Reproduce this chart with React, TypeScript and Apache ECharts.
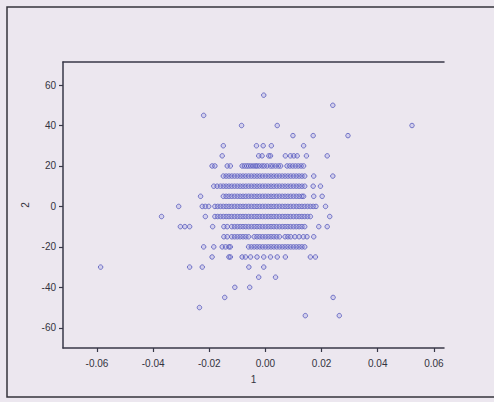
import React, { useEffect, useRef } from "react";
import * as echarts from "echarts";

const xTicks = [-0.06, -0.04, -0.02, 0.0, 0.02, 0.04, 0.06];
const yTicks = [-60, -40, -20, 0, 20, 40, 60];

const rowY = [55, 50, 45, 40, 35, 30, 25, 20, 15, 10, 5, 0, -5, -10, -15, -20, -25, -30, -35, -40, -45, -50, -54];

const x55 = [-0.0006];
const x50 = [0.024];
const x45 = [-0.022];
const x40 = [-0.0085, 0.0042, 0.0522];
const x35 = [0.0098, 0.017, 0.0294];
const x30 = [-0.015, -0.0032, -0.0008, 0.0021, 0.0136];
const x25 = [-0.0154, -0.0024, -0.0012, 0.0012, 0.0018, 0.0071, 0.0089, 0.0101, 0.0113, 0.0146, 0.022];
const x20 = [-0.019, -0.018, -0.0136, -0.0125, -0.0083, -0.0075, -0.0067, -0.006, -0.0052, -0.0044, -0.0036, -0.003, -0.0022, -0.0012, -0.0004, 0.0006, 0.0018, 0.0026, 0.0036, 0.0046, 0.0054, 0.0077, 0.0087, 0.0097, 0.0107, 0.0117, 0.0127, 0.0136];
const x15 = [-0.015, -0.014, -0.013, -0.012, -0.011, -0.01, -0.009, -0.008, -0.007, -0.006, -0.005, -0.004, -0.003, -0.002, -0.001, 0.0, 0.001, 0.002, 0.003, 0.004, 0.005, 0.006, 0.007, 0.008, 0.009, 0.01, 0.011, 0.012, 0.013, 0.014, 0.0172, 0.024];
const x10 = [-0.0184, -0.0172, -0.016, -0.015, -0.014, -0.013, -0.012, -0.011, -0.01, -0.009, -0.008, -0.007, -0.006, -0.005, -0.004, -0.003, -0.002, -0.001, 0.0, 0.001, 0.002, 0.003, 0.004, 0.005, 0.006, 0.007, 0.008, 0.009, 0.01, 0.011, 0.012, 0.013, 0.014, 0.017, 0.0196];
const x5 = [-0.0231, -0.015, -0.014, -0.013, -0.012, -0.011, -0.01, -0.009, -0.008, -0.007, -0.006, -0.005, -0.004, -0.003, -0.002, -0.001, 0.0, 0.001, 0.002, 0.003, 0.004, 0.005, 0.006, 0.007, 0.008, 0.009, 0.01, 0.011, 0.012, 0.013, 0.0136, 0.0172, 0.0202];
const x0 = [-0.0309, -0.0225, -0.0214, -0.0202, -0.018, -0.017, -0.016, -0.015, -0.014, -0.013, -0.012, -0.011, -0.01, -0.009, -0.008, -0.007, -0.006, -0.005, -0.004, -0.003, -0.002, -0.001, 0.0, 0.001, 0.002, 0.003, 0.004, 0.005, 0.006, 0.007, 0.008, 0.009, 0.01, 0.011, 0.012, 0.013, 0.014, 0.015, 0.016, 0.017, 0.018, 0.0214];
const xm5 = [-0.037, -0.0214, -0.018, -0.017, -0.016, -0.015, -0.014, -0.013, -0.012, -0.011, -0.01, -0.009, -0.008, -0.007, -0.006, -0.005, -0.004, -0.003, -0.002, -0.001, 0.0, 0.001, 0.002, 0.003, 0.004, 0.005, 0.006, 0.007, 0.008, 0.009, 0.01, 0.011, 0.012, 0.013, 0.014, 0.015, 0.016, 0.0229];
const xm10 = [-0.0303, -0.0287, -0.027, -0.0188, -0.0148, -0.0136, -0.012, -0.011, -0.01, -0.009, -0.008, -0.007, -0.006, -0.005, -0.004, -0.003, -0.002, -0.001, 0.0, 0.001, 0.002, 0.003, 0.004, 0.005, 0.006, 0.007, 0.008, 0.009, 0.01, 0.011, 0.012, 0.013, 0.014, 0.019, 0.022];
const xm15 = [-0.0148, -0.0136, -0.012, -0.011, -0.01, -0.009, -0.008, -0.007, -0.006, -0.004, -0.003, -0.002, -0.001, 0.0, 0.001, 0.002, 0.003, 0.004, 0.005, 0.007, 0.008, 0.009, 0.0105, 0.012, 0.0135, 0.0148, 0.0172];
const xm20 = [-0.022, -0.0184, -0.0154, -0.0142, -0.013, -0.0125, -0.006, -0.005, -0.004, -0.003, -0.002, -0.001, 0.0, 0.001, 0.002, 0.003, 0.004, 0.005, 0.006, 0.007, 0.008, 0.009, 0.01, 0.011, 0.012, 0.013, 0.014];
const xm25 = [-0.019, -0.013, -0.0125, -0.0083, -0.0071, -0.0053, -0.003, -0.0006, 0.0018, 0.0042, 0.0071, 0.016, 0.0178];
const xm30 = [-0.0587, -0.027, -0.0225, -0.0059, -0.0006];
const xm35 = [-0.0024, 0.0036];
const xm40 = [-0.0109, -0.0056];
const xm45 = [-0.0145, 0.0241];
const xm50 = [-0.0235];
const xm54 = [0.0142, 0.0263];

const rowX = [x55, x50, x45, x40, x35, x30, x25, x20, x15, x10, x5, x0, xm5, xm10, xm15, xm20, xm25, xm30, xm35, xm40, xm45, xm50, xm54];

const axisColor = "#383848";
const textColor = "#333340";
const font = "Liberation Sans, Arial, sans-serif";

export default function App() {
  const ref = useRef<HTMLDivElement>(null);
  useEffect(() => {
    if (!ref.current) return;
    const chart = echarts.init(ref.current, null, { renderer: "svg" });
    const data: number[][] = [];
    rowY.forEach((y, i) => rowX[i].forEach((x) => data.push([x, y])));
    const xMin = -0.0721;
    const xMax = 0.0636;
    chart.setOption({
      animation: false,
      backgroundColor: "#ece7ef",
      grid: { left: 63, top: 62, right: 50, bottom: 54, containLabel: false },
      xAxis: [
        {
          type: "value",
          min: xMin,
          max: xMax,
          name: "1",
          nameLocation: "middle",
          nameGap: 26,
          nameTextStyle: { fontFamily: font, fontSize: 10, color: textColor },
          splitLine: { show: false },
          axisLine: { show: true, onZero: false, lineStyle: { color: axisColor, width: 1.5 } },
          axisTick: { show: true, length: 4, customValues: xTicks, lineStyle: { color: axisColor, width: 1.2 } },
          axisLabel: {
            customValues: xTicks,
            margin: 10,
            fontFamily: font,
            fontSize: 10,
            color: textColor,
            formatter: (v: number) => v.toFixed(2),
          },
        },
        {
          type: "value",
          position: "top",
          min: xMin,
          max: xMax,
          splitLine: { show: false },
          axisLine: { show: true, onZero: false, lineStyle: { color: axisColor, width: 1.5 } },
          axisTick: { show: false },
          axisLabel: { show: false },
        },
      ],
      yAxis: {
        type: "value",
        min: -70,
        max: 71.4,
        name: "2",
        nameLocation: "middle",
        nameGap: 21,
        nameRotate: 90,
        nameTextStyle: { fontFamily: font, fontSize: 10, color: textColor },
        splitLine: { show: false },
        axisLine: { show: true, onZero: false, lineStyle: { color: axisColor, width: 1.5 } },
        axisTick: { show: true, length: 4, customValues: yTicks, lineStyle: { color: axisColor, width: 1.2 } },
        axisLabel: {
          customValues: yTicks,
          margin: 7,
          fontFamily: font,
          fontSize: 10,
          color: textColor,
        },
      },
      graphic: [
        {
          type: "rect",
          silent: true,
          shape: { x: 7, y: 7, width: 500, height: 390 },
          style: { fill: "none", stroke: "#34343c", lineWidth: 1.5 },
        },
      ],
      series: [
        {
          type: "scatter",
          xAxisIndex: 0,
          data,
          symbol: "circle",
          symbolSize: 4.5,
          itemStyle: { color: "rgba(140,140,220,0.3)", borderColor: "#5559bd", borderWidth: 1 },
        },
      ],
    });
    return () => chart.dispose();
  }, []);
  return <div ref={ref} style={{ position: "fixed", left: 0, top: 0, width: 494, height: 402 }} />;
}
